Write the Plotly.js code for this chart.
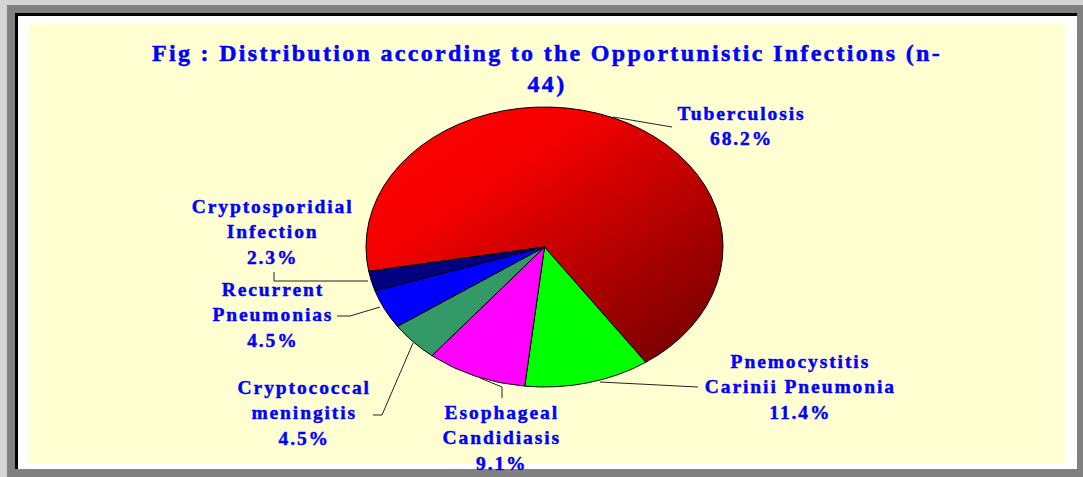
<!DOCTYPE html>
<html>
<head>
<meta charset="utf-8">
<script src="https://cdn.plot.ly/plotly-3.0.1.min.js"></script>
<style>
html,body{margin:0;padding:0;background:#d4d4d4;}
#chart{width:1083px;height:477px;}
</style>
</head>
<body>
<div id="chart"></div>
<script>
// ---- data ----
const categories = ["Tuberculosis", "Pnemocystitis Carinii Pneumonia", "Esophageal Candidiasis",
                    "Cryptococcal meningitis", "Recurrent Pneumonias", "Cryptosporidial Infection"];
const categoryLines = ["Tuberculosis", "Pnemocystitis<br>Carinii Pneumonia", "Esophageal<br>Candidiasis",
                       "Cryptococcal<br>meningitis", "Recurrent<br>Pneumonias", "Cryptosporidial<br>Infection"];
const counts = [30, 5, 4, 2, 2, 1];   // n = 44
const sliceColors = ["#E00000", "#00FF00", "#FF00FF", "#339966", "#0000FF", "#000080"];
const titleText = "Fig : Distribution according to the Opportunistic Infections (n-<br>44)";

// ---- layout helpers (pixel positions) ----
const W = 1083, H = 477;
const fx = x => x / W, fy = y => 1 - y / H;
const total = counts.reduce((a, b) => a + b, 0);
const pctText = counts.map(v => (100 * v / total).toFixed(1) + '%');

const pieCx = 544.5, pieCy = 247, pieR = 140, pieSx = 1.275;

const labelPos = [[742, 126], [800, 387], [502, 438], [304, 413], [273, 315], [273, 232]];
const leaderPaths = [
  [[613, 117], [672, 127]],
  [[600, 382], [698, 387]],
  [[480, 378], [502, 387], [502, 398]],
  [[413, 343], [382, 415], [373, 415]],
  [[380, 307], [350, 316], [337, 316]],
  [[368, 281], [274, 281], [274, 272]]
];

const textColor = '#0000FF';
const serif = 'Liberation Serif, Times New Roman, serif';

const rect = (x0, y0, x1, y1, c) => ({
  type: 'rect', xref: 'paper', yref: 'paper', layer: 'below',
  x0: fx(x0), x1: fx(x1), y0: fy(y1), y1: fy(y0),
  fillcolor: c, line: {width: 0}
});

const shapes = [
  rect(7, 5, 1083, 477, '#808080'),
  rect(15, 13, 1077, 469, '#000000'),
  rect(18, 16, 1077, 469, '#FFFFFF'),
  rect(29, 24, 1065, 464, '#FFFFD2')
];
leaderPaths.forEach(p => {
  shapes.push({
    type: 'path', xref: 'paper', yref: 'paper', layer: 'above',
    path: p.map((pt, i) => (i ? 'L' : 'M') + fx(pt[0]) + ',' + fy(pt[1])).join(' '),
    line: {color: '#222222', width: 1}
  });
});

const annotations = categoryLines.map((lab, i) => ({
  xref: 'paper', yref: 'paper', x: fx(labelPos[i][0]), y: fy(labelPos[i][1]),
  xanchor: 'center', yanchor: 'middle', showarrow: false,
  text: lab + '<br>' + pctText[i],
  font: {family: serif, size: 19.5, color: textColor, weight: 'bold'}
}));

const data = [{
  type: 'pie',
  labels: categories,
  values: counts,
  sort: false,
  direction: 'clockwise',
  rotation: 260,
  textinfo: 'none',
  hoverinfo: 'skip',
  showlegend: false,
  marker: {colors: sliceColors, line: {color: '#000000', width: 1}},
  domain: {x: [fx(pieCx - pieR), fx(pieCx + pieR)], y: [fy(pieCy + pieR), fy(pieCy - pieR)]}
}];

const layout = {
  width: W, height: H,
  margin: {l: 0, r: 0, t: 0, b: 0},
  paper_bgcolor: '#d4d4d4',
  showlegend: false,
  title: {
    text: titleText,
    font: {family: serif, size: 24, color: textColor, weight: 'bold'},
    x: fx(547), xanchor: 'center', xref: 'paper',
    y: fy(61), yanchor: 'top', yref: 'container'
  },
  shapes: shapes,
  annotations: annotations
};

Plotly.newPlot('chart', data, layout, {staticPlot: true, displayModeBar: false}).then(gd => {
  const svgNS = 'http://www.w3.org/2000/svg';
  const svg = gd.querySelector('svg.main-svg');
  let defs = svg.querySelector('defs');
  if (!defs) { defs = document.createElementNS(svgNS, 'defs'); svg.insertBefore(defs, svg.firstChild); }
  const grad = document.createElementNS(svgNS, 'linearGradient');
  grad.setAttribute('id', 'tbGrad');
  grad.setAttribute('x1', '0.1'); grad.setAttribute('y1', '0.1');
  grad.setAttribute('x2', '0.95'); grad.setAttribute('y2', '1');
  [['0', '#FF0000'], ['0.25', '#F40000'], ['1', '#700000']].forEach(s => {
    const st = document.createElementNS(svgNS, 'stop');
    st.setAttribute('offset', s[0]); st.setAttribute('stop-color', s[1]);
    grad.appendChild(st);
  });
  defs.appendChild(grad);

  const pl = gd.querySelector('.pielayer');
  if (pl) {
    pl.setAttribute('transform',
      `translate(${pieCx},${pieCy}) scale(${pieSx},1) translate(${-pieCx},${-pieCy})`);
    const paths = pl.querySelectorAll('path.surface');
    paths.forEach(p => p.setAttribute('vector-effect', 'non-scaling-stroke'));
    if (paths[0]) paths[0].style.fill = 'url(#tbGrad)';
  }
  gd.querySelectorAll('.annotation-text').forEach(t => {
    t.style.letterSpacing = '1.9px';
    t.style.stroke = textColor; t.style.strokeWidth = '0.45px';
  });
  gd.querySelectorAll('.gtitle').forEach(t => {
    t.style.letterSpacing = '2.3px';
    t.style.stroke = textColor; t.style.strokeWidth = '0.5px';
  });
});
</script>
</body>
</html>
